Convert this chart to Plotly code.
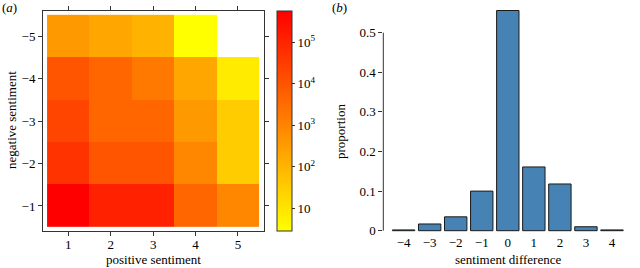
import numpy as np
import plotly.graph_objects as go

# ---- data ----
positive = [1, 2, 3, 4, 5]
negative = [-1, -2, -3, -4, -5]
# counts[row=negative sentiment][col=positive sentiment]
counts = [
    [560000, 115000, 115000, 4300, 870],
    [49000, 10000, 10000, 870, 32],
    [21000, 4300, 4300, 370, 32],
    [10000, 4300, 1800, 200, 7.5],
    [370, 200, 110, 2.8, None],
]
cbar_tickvals = [1, 2, 3, 4, 5]
cbar_ticktext = ["10", "10<sup>2</sup>", "10<sup>3</sup>", "10<sup>4</sup>", "10<sup>5</sup>"]

diff = [-4, -3, -2, -1, 0, 1, 2, 3, 4]
proportion = [0.002, 0.017, 0.035, 0.100, 0.556, 0.161, 0.118, 0.010, 0.002]
prop_ticks = [0, 0.1, 0.2, 0.3, 0.4, 0.5]
prop_ticktext = ["0", "0.1", "0.2", "0.3", "0.4", "0.5"]

# ---- figure ----
FONT = "Liberation Serif, Times New Roman, serif"
W, H = 640, 268
logz = [[(np.log10(v) if v is not None else None) for v in row] for row in counts]

fig = go.Figure()
fig.add_trace(go.Heatmap(
    x=positive, y=negative, z=logz,
    zmin=0.45, zmax=5.75,
    colorscale=[[0, "#FFFF00"], [1, "#FF0000"]],
    xaxis="x", yaxis="y",
    colorbar=dict(
        x=277 / W, xanchor="left",
        y=(H - 121) / H, yanchor="middle",
        lenmode="pixels", len=220,
        thickness=15, thicknessmode="pixels",
        outlinewidth=1, outlinecolor="#333",
        tickvals=cbar_tickvals, ticktext=cbar_ticktext,
        ticks="outside", ticklen=3, tickcolor="#333",
        tickfont=dict(family=FONT, size=13, color="black"),
        xpad=0, ypad=0,
    ),
))
fig.add_trace(go.Bar(
    x=diff, y=proportion, xaxis="x2", yaxis="y2",
    marker=dict(color="#4682B4", line=dict(color="#1a1a1a", width=1)),
    width=0.86,
))

axfont = dict(family=FONT, size=13, color="black")
fig.update_layout(
    width=W, height=H,
    margin=dict(l=0, r=0, t=0, b=0),
    paper_bgcolor="white", plot_bgcolor="white",
    showlegend=False,
    font=axfont,
    xaxis=dict(
        domain=[43 / W, 264 / W], range=[0.404, 5.613],
        tickvals=positive, ticks="outside", ticklen=4, tickcolor="#333",
        showline=True, mirror="allticks", linecolor="#333", linewidth=1,
        showgrid=False, zeroline=False, tickfont=axfont, ticklabelstandoff=-3,
        anchor="y", automargin=False,
    ),
    yaxis=dict(
        domain=[(H - 231) / H, (H - 11) / H], range=[-0.41, -5.59],
        tickvals=negative, ticks="outside", ticklen=4, tickcolor="#333",
        showline=True, mirror="allticks", linecolor="#333", linewidth=1,
        showgrid=False, zeroline=False, tickfont=axfont,
        anchor="x", automargin=False,
    ),
    xaxis2=dict(
        domain=[383.3 / W, 625 / W], range=[-4.78, 4.5],
        tickvals=diff, ticks="", showline=False, showgrid=False, zeroline=False,
        tickfont=axfont,
        anchor="y2", automargin=False,
    ),
    yaxis2=dict(
        domain=[(H - 233) / H, (H - 6) / H], range=[-0.0058, 0.5674],
        tickvals=prop_ticks, ticktext=prop_ticktext,
        ticks="outside", ticklen=4, tickcolor="#333",
        showline=False, showgrid=False, zeroline=False, tickfont=axfont,
        anchor="x2", automargin=False,
    ),
    shapes=[dict(type="line", xref="x2 domain", x0=0, x1=0,
                 yref="y2", y0=0, y1=0.5,
                 line=dict(color="#333", width=1))],
)

def note(text, px, py, angle=0):
    fig.add_annotation(text=text, x=px / W, y=(H - py) / H, xref="paper", yref="paper",
                       showarrow=False, font=axfont, xanchor="center", yanchor="middle",
                       textangle=angle)

note("(<i>a</i>)", 9, 8)
note("(<i>b</i>)", 339, 8)
note("positive sentiment", 153, 259)
note("sentiment difference", 508, 259)
note("negative sentiment", 12, 120, -90)
note("proportion", 340, 132, -90)

fig.write_html("out.html", config={"displayModeBar": False},
               post_script="document.body.style.margin='0';document.body.style.overflow='hidden';")
